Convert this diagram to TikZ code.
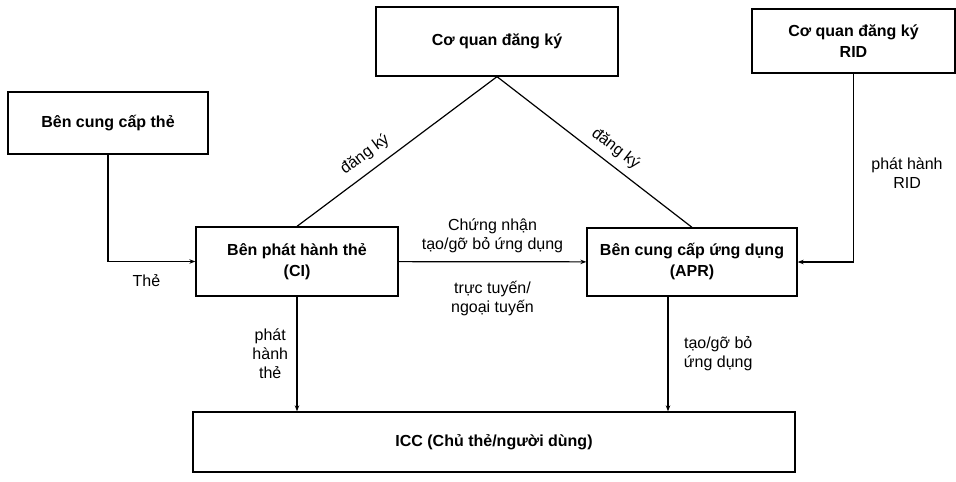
\documentclass[tikz,border=0pt]{standalone}
\usepackage{fontspec}
\setmainfont{Liberation Sans}
\usetikzlibrary{arrows.meta}

\begin{document}
\begin{tikzpicture}[x=1pt,y=-1pt,
    box/.style={draw,line width=1.3pt,align=center,inner sep=2pt,
        font=\bfseries\fontsize{16}{21}\selectfont},
    lab/.style={align=center,font=\fontsize{16}{19}\selectfont},
    link/.style={line width=1.2pt},
    conn/.style={link,-{Stealth[length=6pt,width=4.5pt]}}]
    \useasboundingbox (0,0) rectangle (956,482);
    % boxes
    \path
        (108,123) node[box,minimum width=200pt,minimum height=62pt] (sup) {Bên cung cấp thẻ}
        (497,41.5) node[box,minimum width=242pt,minimum height=69pt] (reg) {Cơ quan đăng ký}
        (853.5,41) node[box,minimum width=203pt,minimum height=64pt] (rid) {Cơ quan đăng ký\\RID}
        (297,261.5) node[box,minimum width=202pt,minimum height=69pt] (ci) {Bên phát hành thẻ\\(CI)}
        (692,262) node[box,minimum width=210pt,minimum height=68pt] (apr) {Bên cung cấp ứng dụng\\(APR)}
        (494,442) node[box,minimum width=602pt,minimum height=60pt] (icc) {ICC (Chủ thẻ/người dùng)};
    \coordinate (aprout) at ([xshift=-24pt]apr.south);
    % connectors
    \draw[conn] (sup.south) |- node[lab,below=9pt,pos=0.72] {Thẻ} (ci.west);
    \draw[link] (ci.north) -- node[lab,sloped,above=5pt,pos=0.39] {đăng ký} (reg.south);
    \draw[link] (reg.south) -- node[lab,sloped,above=4pt,pos=0.56] {đăng ký} (apr.north);
    \draw[conn] (ci) --
        node[lab,above=5pt] {Chứng nhận\\tạo/gỡ bỏ ứng dụng}
        node[lab,below=16pt] {trực tuyến/\\ngoại tuyến} (apr);
    \draw[conn] (rid.south) |- node[lab,right=14pt,pos=0.265] {phát hành\\RID} (apr.east);
    \draw[conn] (ci.south) -- node[lab,left=5pt] {phát\\hành\\thẻ} (ci.south |- icc.north);
    \draw[conn] (aprout) -- node[lab,right=12pt] {tạo/gỡ bỏ\\ứng dụng} (aprout |- icc.north);
\end{tikzpicture}
\end{document}
